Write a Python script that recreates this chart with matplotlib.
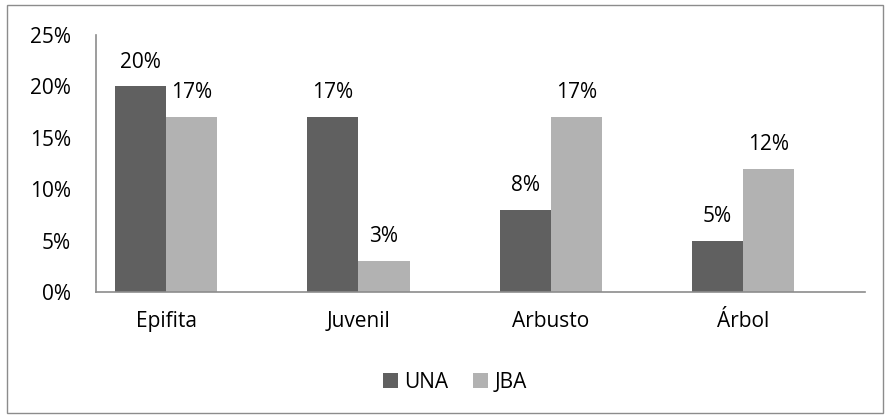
import matplotlib
matplotlib.use("Agg")
import matplotlib.pyplot as plt
from matplotlib.patches import Rectangle
import numpy as np

categories = ["Epifita", "Juvenil", "Arbusto", "Árbol"]
una = [20, 17, 8, 5]
jba = [17, 3, 17, 12]
yticks = [0, 5, 10, 15, 20, 25]

plt.rcParams['font.family'] = ['Open Sans', 'DejaVu Sans']
FS = 15

fig = plt.figure(figsize=(8.9, 4.19), dpi=100)
fig.patches.append(Rectangle((7/890, 1-413/419), 876/890, 408/419, transform=fig.transFigure,
                             fill=False, edgecolor='#8c8c8c', linewidth=1))
ax = fig.add_axes([96/890, 1-292/419, (865-96)/890, (292-35)/419])

x = np.arange(len(categories))
w = 0.266
c1, c2 = '#606060', '#b2b2b2'
b1 = ax.bar(x - w/2, una, w, color=c1, label='UNA')
b2 = ax.bar(x + w/2, jba, w, color=c2, label='JBA')

for bars, vals in ((b1, una), (b2, jba)):
    for r, v in zip(bars, vals):
        ax.annotate(f"{v}%", (r.get_x() + r.get_width()/2, v), xytext=(0, 10),
                    textcoords='offset points', ha='center', va='bottom', fontsize=FS)

ax.set_xlim(-0.365, 3.635)
ax.set_ylim(0, 25)
ax.set_yticks(yticks)
ax.set_yticklabels([f"{t}%" for t in yticks], fontsize=FS)
ax.set_xticks(x)
ax.set_xticklabels(categories, fontsize=FS)
ax.tick_params(axis='y', length=0, pad=18)
ax.tick_params(axis='x', length=0, pad=14)
for s in ('top', 'right'):
    ax.spines[s].set_visible(False)
for s in ('left', 'bottom'):
    ax.spines[s].set_color('#8c8c8c')
    ax.spines[s].set_linewidth(1.2)

fig.legend(handles=[b1, b2], loc='center', bbox_to_anchor=(455/890, 1-382/419), ncol=2,
           frameon=False, fontsize=FS, handlelength=0.7, handleheight=0.7,
           handletextpad=0.3, columnspacing=1.2)

fig.savefig("out.png", dpi=100)
